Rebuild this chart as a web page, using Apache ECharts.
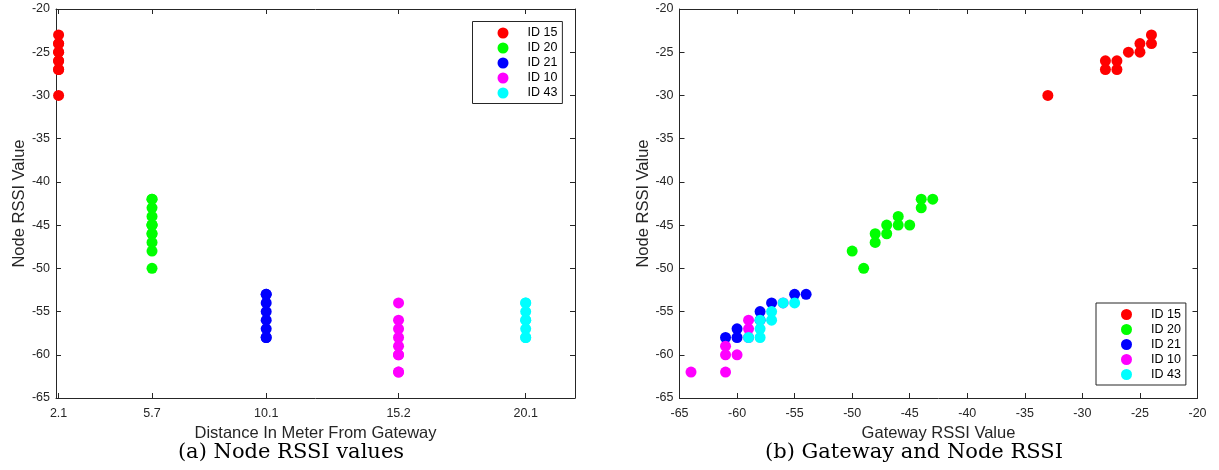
<!DOCTYPE html>
<html>
<head>
<meta charset="utf-8">
<title>Node and Gateway RSSI</title>
<script src="https://cdn.jsdelivr.net/npm/echarts@6/dist/echarts.min.js"></script>
<style>
  html, body { margin: 0; padding: 0; background: #fff; }
  #chart { width: 1219px; height: 470px; }
</style>
</head>
<body>
<div id="chart"></div>
<script>
// Node IDs, their distance from the gateway (m) and marker colours
const ids = ['ID 15', 'ID 20', 'ID 21', 'ID 10', 'ID 43'];
const distances = [2.1, 5.7, 10.1, 15.2, 20.1];
const colors = ['#ff0000', '#00ff00', '#0000ff', '#ff00ff', '#00ffff'];

// Paired RSSI readings (dBm): gateway side and node side
const gateway15 = [-33, -28, -28, -27, -27, -26, -25, -25, -24, -24];
const node15    = [-30, -26, -27, -26, -27, -25, -25, -24, -23, -24];
const gateway20 = [-50, -49, -48, -48, -47, -47, -46, -46, -45, -44, -44, -43];
const node20    = [-48, -50, -46, -47, -45, -46, -44, -45, -45, -42, -43, -42];
const gateway21 = [-61, -60, -60, -58, -58, -57, -55, -54];
const node21    = [-58, -57, -58, -56, -55, -54, -53, -53];
const gateway10 = [-64, -61, -61, -61, -60, -59, -59, -59, -56];
const node10    = [-62, -59, -60, -62, -60, -56, -57, -58, -54];
const gateway43 = [-59, -58, -58, -58, -57, -57, -56, -55];
const node43    = [-58, -58, -57, -56, -55, -56, -54, -54];

const gatewayRssi = [gateway15, gateway20, gateway21, gateway10, gateway43];
const nodeRssi = [node15, node20, node21, node10, node43];

// Axis ranges and tick labels
const distanceTicks = [2.1, 5.7, 10.1, 15.2, 20.1];
const distanceRange = [2, 22];
const rssiRange = [-65, -20];
const rssiStep = 5;

const axisColor = '#262626';
const sans = 'Liberation Sans, Arial, Helvetica, sans-serif';
const serif = 'DejaVu Serif, Liberation Serif, serif';

const chart = echarts.init(document.getElementById('chart'), null, { renderer: 'canvas' });

const grids = [
  { left: 56, top: 9, width: 519, height: 389 },
  { left: 679.5, top: 9, width: 518, height: 389 }
];

function lineStyle() {
  return { show: true, onZero: false, lineStyle: { color: axisColor, width: 1 } };
}
function tickStyle(custom) {
  const t = { show: true, inside: true, length: 5, lineStyle: { color: axisColor, width: 1 } };
  if (custom) t.customValues = custom;
  return t;
}
function labelStyle(custom, margin) {
  const l = { show: true, color: axisColor, fontFamily: sans, fontSize: 12.5, margin: margin };
  if (custom) l.customValues = custom;
  return l;
}
const nameStyle = { color: axisColor, fontFamily: sans, fontSize: 16.5 };

const xAxis = [
  { // distance axis (bottom)
    type: 'value', gridIndex: 0, position: 'bottom',
    min: distanceRange[0], max: distanceRange[1],
    name: 'Distance In Meter From Gateway', nameLocation: 'middle', nameGap: 25,
    nameTextStyle: nameStyle,
    axisLine: lineStyle(), axisTick: tickStyle(distanceTicks),
    axisLabel: labelStyle(distanceTicks, 9), splitLine: { show: false }
  },
  { // mirrored top edge
    type: 'value', gridIndex: 0, position: 'top',
    min: distanceRange[0], max: distanceRange[1],
    axisLine: lineStyle(), axisTick: tickStyle(distanceTicks),
    axisLabel: { show: false }, splitLine: { show: false }
  },
  { // gateway RSSI axis (bottom)
    type: 'value', gridIndex: 1, position: 'bottom',
    min: rssiRange[0], max: rssiRange[1], interval: rssiStep,
    name: 'Gateway RSSI Value', nameLocation: 'middle', nameGap: 25,
    nameTextStyle: nameStyle,
    axisLine: lineStyle(), axisTick: tickStyle(),
    axisLabel: labelStyle(null, 9), splitLine: { show: false }
  },
  { // mirrored top edge
    type: 'value', gridIndex: 1, position: 'top',
    min: rssiRange[0], max: rssiRange[1], interval: rssiStep,
    axisLine: lineStyle(), axisTick: tickStyle(),
    axisLabel: { show: false }, splitLine: { show: false }
  }
];

function yPair(gridIndex) {
  return [
    {
      type: 'value', gridIndex: gridIndex, position: 'left',
      min: rssiRange[0], max: rssiRange[1], interval: rssiStep,
      name: 'Node RSSI Value', nameLocation: 'middle', nameGap: 28,
      nameTextStyle: nameStyle,
      axisLine: lineStyle(), axisTick: tickStyle(),
      axisLabel: labelStyle(null, 6), splitLine: { show: false }
    },
    {
      type: 'value', gridIndex: gridIndex, position: 'right',
      min: rssiRange[0], max: rssiRange[1], interval: rssiStep,
      axisLine: lineStyle(), axisTick: tickStyle(),
      axisLabel: { show: false }, splitLine: { show: false }
    }
  ];
}
const yAxis = yPair(0).concat(yPair(1));

const series = [];
ids.forEach(function (id, i) {
  // node RSSI against distance
  series.push({
    name: id, type: 'scatter', xAxisIndex: 0, yAxisIndex: 0,
    symbol: 'circle', symbolSize: 11,
    itemStyle: { color: colors[i], opacity: 1 },
    data: nodeRssi[i].map(function (v) { return [distances[i], v]; })
  });
});
ids.forEach(function (id, i) {
  // node RSSI against gateway RSSI
  series.push({
    name: id, type: 'scatter', xAxisIndex: 2, yAxisIndex: 2,
    symbol: 'circle', symbolSize: 11,
    itemStyle: { color: colors[i], opacity: 1 },
    data: gatewayRssi[i].map(function (g, k) { return [g, nodeRssi[i][k]]; })
  });
});

function legendAt(left, top) {
  return {
    data: ids, orient: 'vertical', left: left, top: top,
    icon: 'circle', itemWidth: 39, itemHeight: 11, itemGap: 2,
    padding: [5, 5, 4, 25],
    borderColor: axisColor, borderWidth: 1, backgroundColor: '#fff',
    selectedMode: false,
    textStyle: { color: '#000', fontFamily: sans, fontSize: 12.5 }
  };
}

const captionFont = '21px ' + serif;

chart.setOption({
  animation: false,
  backgroundColor: '#fff',
  grid: grids,
  xAxis: xAxis,
  yAxis: yAxis,
  legend: [legendAt(472.5, 21.5), legendAt(1096, 303)],
  series: series,
  graphic: [
    { type: 'text', x: 291, y: 453,
      style: { text: '(a) Node RSSI values', font: captionFont, fill: '#000', textAlign: 'center', textVerticalAlign: 'middle' } },
    { type: 'text', x: 914, y: 453,
      style: { text: '(b) Gateway and Node RSSI', font: captionFont, fill: '#000', textAlign: 'center', textVerticalAlign: 'middle' } }
  ]
});
</script>
</body>
</html>
